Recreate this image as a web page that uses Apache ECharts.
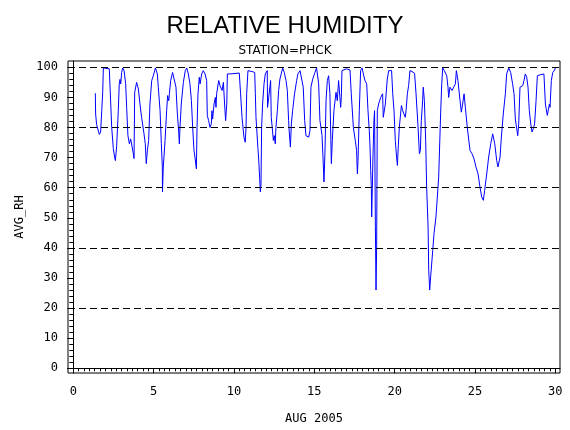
<!DOCTYPE html>
<html>
<head>
<meta charset="utf-8">
<script src="https://cdn.jsdelivr.net/npm/echarts@6/dist/echarts.min.js"></script>
<style>
  html, body { margin: 0; padding: 0; background: #fff; }
  #chart { width: 570px; height: 430px; }
</style>
</head>
<body>
<div id="chart"></div>
<script>
// hourly-ish relative humidity, August 2005 (day of month)
const day = [
  1.37, 1.39, 1.45, 1.62, 1.70, 1.77, 1.83, 1.87, 2.24, 2.33, 2.39, 2.49, 2.57, 2.62, 2.70, 2.80,
  2.86, 2.91, 2.95, 3.01, 3.07, 3.16, 3.26, 3.32, 3.40, 3.49, 3.57, 3.63, 3.74, 3.78, 3.82, 3.94,
  4.05, 4.15, 4.25, 4.40, 4.48, 4.54, 4.61, 4.69, 4.77, 4.88, 4.98, 5.11, 5.23, 5.29, 5.40, 5.48,
  5.54, 5.55, 5.60, 5.71, 5.81, 5.87, 5.94, 5.98, 6.06, 6.18, 6.27, 6.39, 6.47, 6.56, 6.60, 6.64,
  6.72, 6.85, 6.97, 7.06, 7.16, 7.26, 7.35, 7.43, 7.51, 7.57, 7.64, 7.66, 7.70, 7.76, 7.84, 7.89,
  7.99, 8.09, 8.20, 8.30, 8.34, 8.42, 8.51, 8.59, 8.63, 8.67, 8.76, 8.84, 8.88, 8.92, 9.05, 9.13,
  9.26, 9.34, 9.44, 9.48, 9.55, 9.59,
  9.75, 10.33, 10.41, 10.50, 10.54, 10.62, 10.70, 10.75, 10.79, 10.87, 10.95, 11.12, 11.29, 11.33,
  11.37, 11.41, 11.49, 11.53, 11.60, 11.64, 11.68, 11.72, 11.78, 11.87, 11.95, 12.07, 12.09, 12.16,
  12.28, 12.32, 12.38, 12.45, 12.51, 12.57, 12.61, 12.70, 12.78, 12.86, 13.03, 13.13, 13.24, 13.32,
  13.40, 13.44, 13.51, 13.57, 13.65, 13.77, 13.90, 13.98, 14.11, 14.23, 14.31, 14.40, 14.48, 14.65,
  14.73, 14.79, 14.90, 15.04, 15.14, 15.25, 15.27, 15.35, 15.48, 15.54, 15.60, 15.66, 15.73, 15.81,
  15.89, 15.97, 16.06, 16.12, 16.22, 16.35, 16.43, 16.51, 16.60, 16.64, 16.68, 16.72, 17.01, 17.22,
  17.30, 17.43, 17.55, 17.63, 17.68, 17.72, 17.80, 17.88, 17.97, 18.05, 18.15, 18.26, 18.34, 18.42,
  18.46, 18.51, 18.55, 18.57, 18.61, 18.65, 18.71, 18.75, 18.80, 18.84, 18.88, 18.92, 19.00, 19.13,
  19.25, 19.29, 19.42, 19.54, 19.63,
  19.71, 19.81, 19.88, 19.96, 20.04, 20.12, 20.17, 20.23, 20.29, 20.37, 20.42, 20.50, 20.58, 20.66,
  20.71, 20.79, 20.87, 20.95, 21.08, 21.24, 21.33, 21.45, 21.54, 21.60, 21.66, 21.74, 21.78, 21.85,
  21.93, 21.99, 22.08, 22.12, 22.18, 22.24, 22.37, 22.45, 22.57, 22.74, 22.86, 22.93, 22.99, 23.09,
  23.24, 23.32, 23.36, 23.44, 23.57, 23.69, 23.78, 23.84, 23.94, 24.07, 24.15, 24.23, 24.32, 24.40,
  24.52, 24.69, 24.81, 24.94, 25.06, 25.19, 25.31, 25.42, 25.52, 25.60, 25.73, 25.85, 25.98, 26.10,
  26.23, 26.35, 26.43, 26.56, 26.64, 26.76, 26.89, 26.97, 27.10, 27.22, 27.34, 27.43, 27.51, 27.59,
  27.66, 27.72, 27.80, 27.88, 27.97, 28.05, 28.13, 28.22, 28.30, 28.38, 28.47, 28.55, 28.63, 28.71,
  28.80, 28.88, 29.05, 29.29, 29.38, 29.50, 29.63, 29.67, 29.75, 29.84, 29.96, 30.00
];
const rh = [
  91.4, 84.5, 81.0, 77.7, 78.5, 85.6, 91.7, 99.8, 99.5, 98.9, 80.0, 73.0, 70.2, 69.0, 74.0, 85.6,
  94.5, 96.0, 94.5, 98.3, 99.8, 98.9, 94.5, 86.7, 77.3, 74.6, 76.2, 75.7, 71.2, 69.7, 91.7, 95.0,
  92.8, 87.8, 83.4, 77.9, 74.6, 68.0, 72.4, 75.7, 87.8, 95.6, 97.2, 99.8, 97.8, 93.4, 85.6, 74.6,
  66.9, 58.6, 66.9, 75.7, 85.6, 90.6, 88.9, 91.2, 95.6, 98.3, 98.3, 93.4, 85.1, 78.5, 74.6, 80.0,
  87.8, 95.0, 98.9, 99.8, 97.8, 94.5, 89.0, 80.0, 72.4, 70.2, 70.8, 66.3, 80.0, 91.2, 96.7, 94.5,
  97.8, 98.9, 97.8, 95.6, 84.0, 82.3, 80.0, 81.2, 85.6, 82.8, 87.8, 90.0, 86.7, 91.2, 95.6, 93.9,
  92.3, 95.0, 85.6, 82.3, 87.8, 97.8,
  97.8, 98.1, 91.2, 83.4, 81.2, 76.8, 75.1, 80.0, 91.2, 98.9, 99.1, 98.6, 98.3, 91.2,
  83.4, 80.0, 73.0, 70.2, 63.0, 58.6, 60.8, 80.0, 87.8, 94.5, 97.8, 98.9, 86.7, 90.0,
  95.6, 83.4, 80.0, 75.7, 77.3, 74.6, 80.0, 85.6, 92.3, 96.1, 99.8, 98.3, 95.6, 92.3,
  82.3, 78.5, 73.5, 81.2, 85.6, 91.2, 95.6, 97.8, 98.9, 98.9, 93.4, 82.3, 77.3, 76.8,
  79.0, 93.4, 96.1, 98.3, 99.8, 99.8, 94.5, 82.3, 77.3, 70.2, 61.9, 71.3, 89.0, 95.6,
  97.2, 91.2, 68.0, 75.7, 85.6, 91.7, 88.9, 95.6, 96.1, 86.7, 90.0, 98.9, 99.5, 99.1,
  91.2, 80.0, 75.7, 72.4, 64.6, 69.0, 85.6, 98.9, 99.8, 97.8, 95.6, 94.5, 85.6, 79.0,
  74.6, 65.7, 59.7, 50.3, 59.7, 70.2, 82.3, 85.6, 47.0, 26.0, 40.9, 85.6, 87.8, 90.0,
  91.2, 83.4, 87.8, 96.1, 98.9,
  99.1, 98.9, 91.2, 85.6, 75.7, 70.2, 67.4, 74.0, 80.0, 84.5, 87.3, 85.6, 84.5, 83.4,
  85.6, 91.2, 93.9, 98.9, 98.6, 98.0, 91.2, 80.7, 71.3, 72.4, 82.3, 88.9, 93.4, 88.9,
  75.7, 60.2, 47.0, 32.6, 26.0, 30.4, 39.2, 44.8, 50.3, 63.5, 84.5, 94.5, 99.8, 98.9,
  97.2, 93.4, 90.0, 93.4, 92.3, 91.7, 94.5, 98.9, 95.6, 88.9, 85.1, 87.8, 91.2, 86.7,
  80.0, 72.4, 71.3, 69.6, 66.9, 64.6, 60.2, 56.9, 55.8, 59.1, 64.6, 70.2, 74.6, 77.9,
  74.6, 69.0, 66.9, 70.2, 76.8, 84.5, 91.2, 97.8, 99.8, 98.3, 94.5, 91.2, 82.8, 82.3,
  77.3, 81.2, 93.4, 92.8, 93.9, 95.6, 97.8, 96.7, 93.4, 85.6, 81.2, 78.5, 79.6, 81.2,
  88.9, 97.2, 97.5, 97.8, 87.8, 84.0, 87.8, 86.7, 95.6, 98.3, 99.1, 99.8
];

const dayTicks = [0, 5, 10, 15, 20, 25, 30];
const rhTicks = [0, 10, 20, 30, 40, 50, 60, 70, 80, 90, 100];
const refLines = [0, 20, 40, 60, 80, 100];

// minor ticks: every 8 hours on x, every 2 % on y
const minorDays = [];
for (let i = 0; i <= 90; i++) if (i % 15) minorDays.push(i / 3);
const minorRh = [];
for (let v = 0; v <= 100; v += 2) if (v % 10) minorRh.push(v);

const mono = 'DejaVu Sans Mono';
const chart = echarts.init(document.getElementById('chart'));

chart.setOption({
  animation: false,
  backgroundColor: '#fff',
  title: [
    {
      text: 'RELATIVE HUMIDITY',
      left: 'center',
      top: 9,
      textStyle: { fontFamily: 'Liberation Sans', fontSize: 24, fontWeight: 'normal', color: '#000' }
    },
    {
      text: 'STATION=PHCK',
      left: 'center',
      top: 40,
      textStyle: { fontFamily: 'DejaVu Sans', fontSize: 12, fontWeight: 'normal', color: '#000' }
    }
  ],
  grid: {
    left: 68, right: 10, top: 61, bottom: 56,
    show: true, borderColor: '#000', borderWidth: 1
  },
  xAxis: [
    {
      type: 'value', min: -0.33, max: 30.29, position: 'bottom',
      axisLine: { show: true, lineStyle: { color: '#000', width: 1 } },
      axisTick: { show: true, length: 5, customValues: dayTicks, lineStyle: { color: '#000' } },
      axisLabel: { customValues: dayTicks, margin: 13, fontFamily: mono, fontSize: 12, color: '#000' },
      splitLine: { show: false },
      name: 'AUG 2005', nameLocation: 'middle', nameGap: 40,
      nameTextStyle: { fontFamily: mono, fontSize: 12, color: '#000' }
    },
    {
      type: 'value', min: -0.33, max: 30.29, position: 'bottom',
      axisLine: { show: false },
      axisTick: { show: true, length: 3, customValues: minorDays, lineStyle: { color: '#000' } },
      axisLabel: { show: false },
      splitLine: { show: false }
    }
  ],
  yAxis: [
    {
      type: 'value', min: -1.56, max: 102.1, position: 'left',
      axisLine: { show: true, lineStyle: { color: '#000', width: 1 } },
      axisTick: { show: true, length: 6, customValues: rhTicks, lineStyle: { color: '#000' } },
      axisLabel: { customValues: rhTicks, margin: 10, fontFamily: mono, fontSize: 12, color: '#000' },
      splitLine: { show: false },
      name: 'AVG_RH', nameLocation: 'middle', nameRotate: 90, nameGap: 40,
      nameTextStyle: { fontFamily: mono, fontSize: 12, color: '#000' }
    },
    {
      type: 'value', min: -1.56, max: 102.1, position: 'left',
      axisLine: { show: false },
      axisTick: { show: true, length: 4, customValues: minorRh, lineStyle: { color: '#000' } },
      axisLabel: { show: false },
      splitLine: { show: false }
    }
  ],
  series: [
    {
      name: 'AVG_RH',
      type: 'line',
      xAxisIndex: 0,
      yAxisIndex: 0,
      data: day.map((d, i) => [d, rh[i]]),
      showSymbol: false,
      lineStyle: { color: '#0000ff', width: 1 },
      markLine: {
        silent: true,
        symbol: 'none',
        label: { show: false },
        lineStyle: { color: '#000', type: [7, 4], width: 1 },
        data: refLines.map(v => ({ yAxis: v }))
      }
    }
  ]
});
</script>
</body>
</html>
